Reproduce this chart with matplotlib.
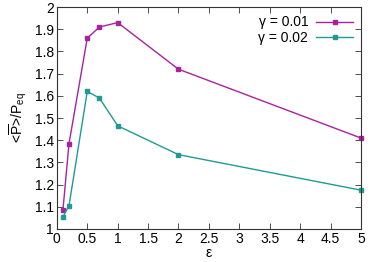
import matplotlib
matplotlib.use("Agg")
import matplotlib.pyplot as plt

plt.rcParams['font.family'] = ['Liberation Sans', 'DejaVu Sans']
plt.rcParams['mathtext.fontset'] = 'custom'
plt.rcParams['mathtext.rm'] = 'Liberation Sans'

eps = [0.1, 0.2, 0.5, 0.7, 1.0, 2.0, 5.0]
p_g001 = [1.085, 1.385, 1.86, 1.91, 1.93, 1.72, 1.41]
p_g002 = [1.055, 1.105, 1.62, 1.59, 1.465, 1.335, 1.175]
labels = ['γ = 0.01', 'γ = 0.02']
colors = ['#a8229e', '#209a92']

fig = plt.figure(figsize=(3.74, 2.62), dpi=100)
ax = fig.add_axes([0.152, 0.126, 0.813, 0.847])

for ys, lab, c in zip([p_g001, p_g002], labels, colors):
    ax.plot(eps, ys, color=c, lw=1.0, marker='s', ms=3.4, label=lab, clip_on=False)

ax.set_xlim(0, 5)
ax.set_ylim(1, 2)
ax.set_xticks([0, 0.5, 1, 1.5, 2, 2.5, 3, 3.5, 4, 4.5, 5])
ax.set_xticklabels(['0', '0.5', '1', '1.5', '2', '2.5', '3', '3.5', '4', '4.5', '5'])
ax.set_yticks([1 + 0.1 * i for i in range(11)])
ax.set_yticklabels(['1', '1.1', '1.2', '1.3', '1.4', '1.5', '1.6', '1.7', '1.8', '1.9', '2'])
ax.tick_params(direction='in', top=True, right=True, labelsize=10, length=4, width=0.6, pad=2, colors='#333333')
ax.tick_params(labelcolor='black')
for s in ax.spines.values():
    s.set_linewidth(0.8)
    s.set_color('#333333')

ax.set_xlabel('ε', fontsize=10, labelpad=0)
ax.set_ylabel(r'<$\overline{\mathrm{P}}$>/P$_{\mathrm{eq}}$', fontsize=10, labelpad=4)

ax.legend(loc='upper right', frameon=False, markerfirst=False, fontsize=10,
          handlelength=2.6, borderaxespad=0.2, labelspacing=0.1, handletextpad=0.6)

fig.savefig('out.png', dpi=100)
